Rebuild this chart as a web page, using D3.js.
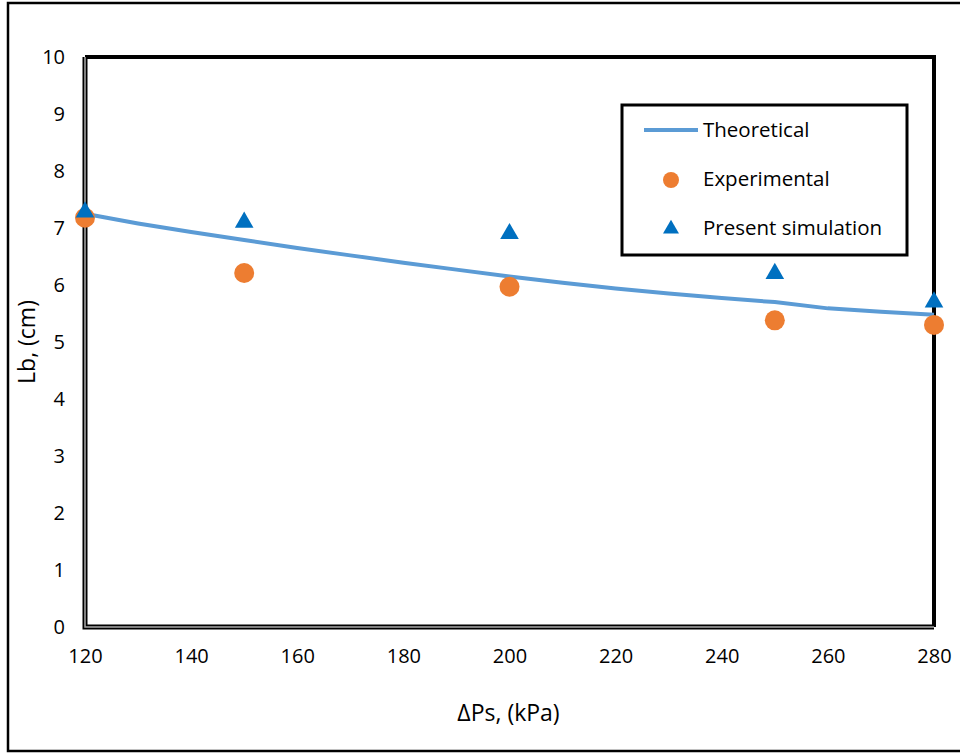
<!DOCTYPE html>
<html>
<head>
<meta charset="utf-8">
<script src="https://cdn.jsdelivr.net/npm/d3@7"></script>
<style>
  body { margin: 0; background: #fff; }
  text { font-family: "Open Sans", "Noto Sans", sans-serif; fill: #000; }
</style>
</head>
<body>
<svg id="chart" width="960" height="754"></svg>
<script>
// theoretical curve (kPa -> cm)
var theoP = [120, 130, 140, 150, 160, 170, 180, 190, 200, 210, 220, 230, 240, 250, 260, 270, 280];
var theoL = [7.25, 7.08, 6.93, 6.79, 6.65, 6.52, 6.39, 6.27, 6.15, 6.04, 5.94, 5.85, 5.77, 5.70, 5.59, 5.53, 5.48];

// measured points
var pointP = [120, 150, 200, 250, 280];
var expL = [7.18, 6.21, 5.97, 5.38, 5.30];
var simL = [7.28, 7.10, 6.90, 6.20, 5.70];

var xTicks = [120, 140, 160, 180, 200, 220, 240, 260, 280];
var yTicks = [0, 1, 2, 3, 4, 5, 6, 7, 8, 9, 10];

var svg = d3.select('#chart');

var m = { left: 85, right: 934, top: 57, bottom: 627 };

var x = d3.scaleLinear().domain([120, 280]).range([m.left, m.right]);
var y = d3.scaleLinear().domain([0, 10]).range([m.bottom, m.top]);

// outer frame
svg.append('rect')
    .attr('x', 8).attr('y', 3)
    .attr('width', 960).attr('height', 748)
    .attr('fill', 'none').attr('stroke', '#000').attr('stroke-width', 2.5);

// plot frame: thick black top/right, double line left/bottom
svg.append('path')
    .attr('d', 'M' + m.left + ',' + m.top + 'H' + m.right + 'V' + m.bottom)
    .attr('fill', 'none').attr('stroke', '#000').attr('stroke-width', 4);
svg.append('path')
    .attr('d', 'M' + m.left + ',' + m.top + 'V' + m.bottom + 'H' + m.right)
    .attr('fill', 'none').attr('stroke', '#000').attr('stroke-width', 5);
svg.append('path')
    .attr('d', 'M' + m.left + ',' + m.top + 'V' + m.bottom + 'H' + m.right)
    .attr('fill', 'none').attr('stroke', '#aaa').attr('stroke-width', 1.5);

// axes (labels only)
var xAxis = d3.axisBottom(x).tickValues(xTicks).tickSize(0).tickPadding(22);
var gx = svg.append('g').attr('transform', 'translate(0,' + m.bottom + ')').call(xAxis);
gx.select('.domain').remove();
gx.selectAll('text').style('font-size', '20px').style('font-family', '"Open Sans", sans-serif');

var yAxis = d3.axisLeft(y).tickValues(yTicks).tickSize(0).tickPadding(20);
var gy = svg.append('g').attr('transform', 'translate(' + m.left + ',0)').call(yAxis);
gy.select('.domain').remove();
gy.selectAll('text').style('font-size', '20px').style('font-family', '"Open Sans", sans-serif');

// axis titles
svg.append('text')
    .attr('x', (m.left + m.right) / 2 - 1).attr('y', 721)
    .attr('text-anchor', 'middle')
    .style('font-size', '23px')
    .text('ΔPs, (kPa)');

svg.append('text')
    .attr('transform', 'translate(35,' + ((m.top + m.bottom) / 2) + ') rotate(-90)')
    .attr('text-anchor', 'middle')
    .style('font-size', '23px')
    .text('Lb, (cm)');

// theoretical line
var line = d3.line()
    .x(function (d) { return x(d[0]); })
    .y(function (d) { return y(d[1]); });

svg.append('path')
    .datum(d3.zip(theoP, theoL))
    .attr('d', line)
    .attr('fill', 'none')
    .attr('stroke', '#5B9BD5')
    .attr('stroke-width', 4);

var tri = d3.symbol().type(d3.symbolTriangle).size(150);

// experimental
svg.append('g').selectAll('circle')
    .data(d3.zip(pointP, expL))
    .enter().append('circle')
    .attr('cx', function (d) { return x(d[0]); })
    .attr('cy', function (d) { return y(d[1]); })
    .attr('r', 10)
    .attr('fill', '#ED7D31');

// simulation
svg.append('g').selectAll('path')
    .data(d3.zip(pointP, simL))
    .enter().append('path')
    .attr('d', tri)
    .attr('transform', function (d) { return 'translate(' + x(d[0]) + ',' + y(d[1]) + ')'; })
    .attr('fill', '#0070C0');

// legend
var lg = svg.append('g');
lg.append('rect')
    .attr('x', 622).attr('y', 105)
    .attr('width', 285).attr('height', 150)
    .attr('fill', '#fff').attr('stroke', '#000').attr('stroke-width', 3);

lg.append('line')
    .attr('x1', 644).attr('x2', 698).attr('y1', 130).attr('y2', 130)
    .attr('stroke', '#5B9BD5').attr('stroke-width', 4);
lg.append('circle')
    .attr('cx', 671).attr('cy', 180).attr('r', 8)
    .attr('fill', '#ED7D31');
lg.append('path')
    .attr('d', d3.symbol().type(d3.symbolTriangle).size(110))
    .attr('transform', 'translate(671,229)')
    .attr('fill', '#0070C0');

var legendText = ['Theoretical', 'Experimental', 'Present simulation'];
lg.selectAll('text.lab')
    .data(legendText)
    .enter().append('text')
    .attr('class', 'lab')
    .attr('x', 703)
    .attr('y', function (d, i) { return 137 + i * 49; })
    .style('font-size', '20.5px')
    .text(String);
</script>
</body>
</html>
